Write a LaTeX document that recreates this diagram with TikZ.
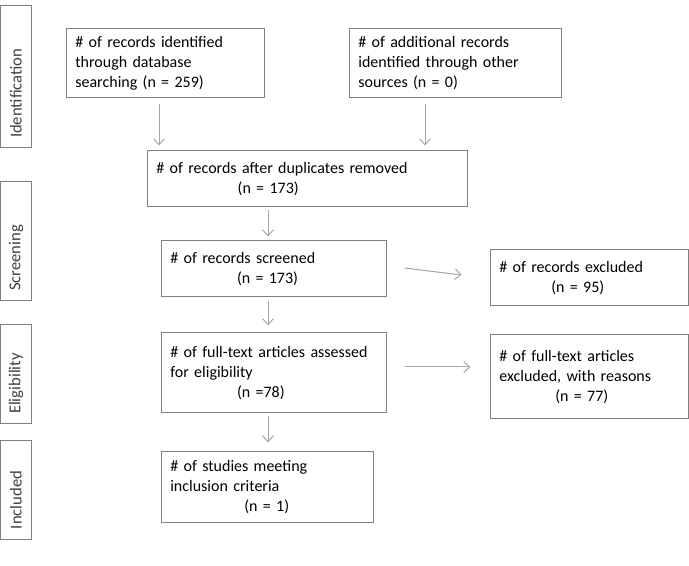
\documentclass[tikz,border=0pt]{standalone}
\usepackage{fontspec}
\setmainfont{Carlito}
\usetikzlibrary{arrows.meta,calc}

\begin{document}
\begin{tikzpicture}[
  x=0.75pt, y=-0.75pt,
  box/.style={draw=black!50, line width=0.75pt, inner xsep=7pt, inner ysep=2pt,
    align=left, font=\fontsize{12}{15}\selectfont},
  side/.style={draw=black!50, line width=0.75pt, rotate=90, minimum height=23pt,
    inner xsep=7.5pt, align=left, text=black!75, font=\fontsize{12.5}{14}\selectfont},
  arr/.style={draw=black!35, line width=0.75pt, -{Straight Barb[length=4.5pt,width=8pt]}}
]
  \useasboundingbox (0,0) rectangle (689,566);

  % Phase labels
  \node[side, text width=91.5pt, minimum width=106.5pt] (ident) at (16,77) {Identification};
  \node[side, text width=74.25pt, minimum width=89.25pt] (screen) at (16,241.5) {Screening};
  \node[side, text width=59.25pt, minimum width=74.25pt] (elig) at (16,374.5) {Eligibility};
  \node[side, text width=58.5pt, minimum width=73.5pt] (incl) at (16,490) {Included};

  % Identification
  \node[box, text width=134.5pt, minimum height=51.75pt] (db) at (165,63.5)
    {\# of records identified\\through database\\searching (n = 259)};
  \node[box, text width=145pt, minimum height=51.75pt] (other) at (455,63.5)
    {\# of additional records\\identified through other\\sources (n = 0)};

  % Screening
  \node[box, text width=226pt, minimum height=42pt] (dup) at (307,179)
    {\# of records after duplicates removed\\\hspace*{61pt}(n = 173)};
  \node[box, text width=154.75pt, minimum height=42pt] (scr) at (273.5,269)
    {\# of records screened\\\hspace*{50pt}(n = 173)};
  \node[box, text width=134.5pt, minimum height=42pt] (exc) at (589,278)
    {\# of records excluded\\\hspace*{39pt}(n = 95)};

  % Eligibility
  \node[box, text width=154.75pt, minimum height=60pt] (full) at (273.5,373)
    {\# of full-text articles assessed\\for eligibility\\\hspace*{50pt}(n =78)};
  \node[box, text width=134.5pt, minimum height=63pt] (fexc) at (589,377)
    {\# of full-text articles\\excluded, with reasons\\\hspace*{42pt}(n = 77)};

  % Included
  \node[box, text width=145pt, minimum height=52.5pt] (stud) at (267,487)
    {\# of studies meeting\\inclusion criteria\\\hspace*{55.5pt}(n = 1)};

  % Arrows
  \draw[arr] ($(db.south)+(-6,6)$) -- ($(db.south |- dup.north)+(-6,-5)$);
  \draw[arr] ($(other.south)+(-30,6)$) -- ($(other.south |- dup.north)+(-30,-5)$);
  \draw[arr] ($(dup.south)+(-39,3)$) -- ($(dup.south |- scr.north)+(-39,-4)$);
  \draw[arr] ($(scr.east)+(18,-1)$) -- ($(exc.west)+(-28,-3)$);
  \draw[arr] ($(scr.south)+(-5.5,4)$) -- ($(scr.south |- full.north)+(-5.5,-7)$);
  \draw[arr] ($(full.east)+(18,-6)$) -- ($(fexc.west)+(-19,-10)$);
  \draw[arr] ($(full.south)+(-5.5,3)$) -- ($(full.south |- stud.north)+(-5.5,-9)$);
\end{tikzpicture}
\end{document}
